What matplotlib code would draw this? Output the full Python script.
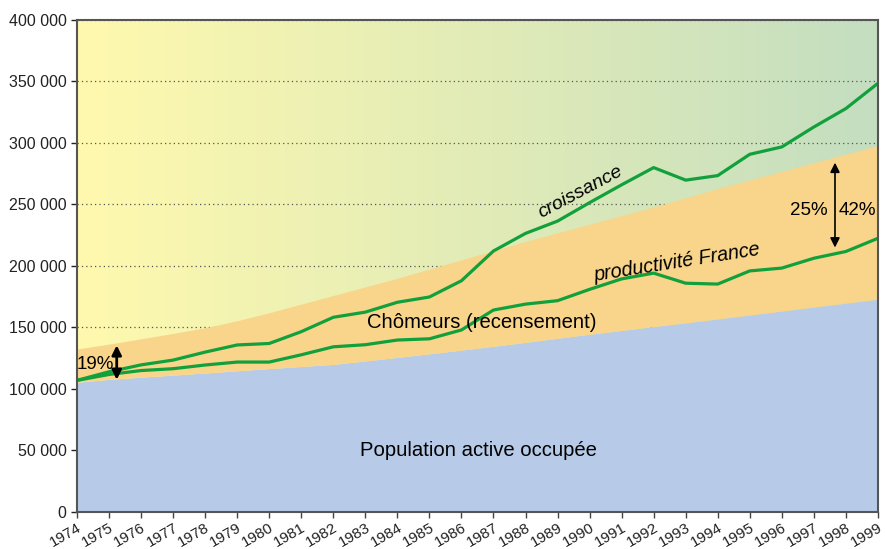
import numpy as np
import matplotlib.pyplot as plt
from matplotlib.colors import to_rgb
from matplotlib.ticker import FuncFormatter

plt.rcParams['font.family'] = ['Liberation Sans', 'DejaVu Sans']

years = list(range(1974, 2000))

# population active occupée (haut de la zone bleue)
pop_occupee = [105500, 107800, 109600, 111300, 113000, 114800, 116600, 118300, 120000,
               122800, 125700, 128600, 131600, 134700, 137900, 141200, 144500, 147600,
               150700, 153800, 157000, 160200, 163400, 166600, 169800, 173000]
# population active totale (occupée + chômeurs, haut de la zone orange)
pop_active = [132500, 136500, 140800, 145200, 149800, 155500, 162000, 169000, 176000,
              183000, 190000, 197500, 205000, 212500, 220000, 227000, 234000, 241000,
              248000, 255500, 263000, 270000, 277000, 284000, 291000, 298000]
croissance = [107000, 114000, 119600, 123500, 130000, 135800, 137000, 146600, 158300,
              162500, 170500, 174800, 188000, 212200, 226500, 236500, 251500, 266000,
              280000, 269800, 273500, 290800, 296800, 313000, 328000, 348500]
productivite = [107000, 111800, 115000, 116500, 119500, 121900, 121900, 127800, 134300,
                136000, 139800, 140800, 148000, 164200, 169000, 171800, 181000, 189500,
                194200, 186000, 185300, 196000, 198300, 206300, 211800, 222500]

yticks = [0, 50000, 100000, 150000, 200000, 250000, 300000, 350000, 400000]

fig = plt.figure(figsize=(8.85, 5.49), dpi=100)
ax = fig.add_axes([0.087, 0.0674, 0.905, 0.8962])

# fond dégradé jaune -> vert
c1 = np.array(to_rgb('#FFF9AE'))
c2 = np.array(to_rgb('#C4DEC0'))
t = np.linspace(0, 1, 256)
grad = (c1[None, :] * (1 - t[:, None]) + c2[None, :] * t[:, None])[None, :, :]
ax.imshow(grad, extent=[1974, 1999, 0, 400000], aspect='auto', zorder=0,
          interpolation='bilinear')

ax.fill_between(years, 0, pop_occupee, color='#B7CBE8', lw=0, zorder=1)
ax.fill_between(years, pop_occupee, pop_active, color='#F8D58A', lw=0, zorder=1)

ax.plot(years, croissance, color='#12A03C', lw=2.3, zorder=3)
ax.plot(years, productivite, color='#12A03C', lw=2.3, zorder=3)

ax.set_xlim(1974, 1999)
ax.set_ylim(0, 400000)
ax.set_xticks(years)
ax.set_xticklabels([str(y) for y in years], rotation=30, ha='right', va='top',
                   rotation_mode='anchor', fontsize=11, color='#222222')
ax.set_yticks(yticks)
ax.yaxis.set_major_formatter(FuncFormatter(lambda v, p: f'{int(v):,}'.replace(',', ' ')))
ax.tick_params(axis='y', labelsize=11.5, colors='#222222', length=4, width=1)
ax.tick_params(axis='x', length=4, width=1, colors='#444444', pad=2)
for lab in ax.get_yticklabels():
    lab.set_color('#222222')
for lab in ax.get_xticklabels():
    lab.set_color('#222222')

ax.set_axisbelow(True)
ax.yaxis.grid(True, ls=(0, (1, 2.5)), color='#555555', lw=0.9)
for s in ax.spines.values():
    s.set_color('#555555')
    s.set_linewidth(1.5)
    s.set_zorder(5)

# textes
ax.text(1989.7, 260400, 'croissance', rotation=28, style='italic', fontsize=14,
        ha='center', va='center', zorder=4)
ax.text(1992.73, 203000, 'productivité France', rotation=9, style='italic', fontsize=14.2,
        ha='center', va='center', zorder=4)
ax.text(1986.64, 153700, 'Chômeurs (recensement)', fontsize=14.6,
        ha='center', va='center', zorder=4)
ax.text(1986.52, 49600, 'Population active occupée', fontsize=14.6,
        ha='center', va='center', zorder=4)

# flèches de pourcentage
ax.annotate('', xy=(1975.24, 135500), xytext=(1975.24, 107500),
            arrowprops=dict(arrowstyle='<|-|>', color='black', lw=2, mutation_scale=14,
                            shrinkA=0, shrinkB=0), zorder=4)
ax.text(1974.58, 120000, '19%', fontsize=13.5, ha='center', va='center', zorder=4)

ax.annotate('', xy=(1997.66, 284000), xytext=(1997.66, 215000),
            arrowprops=dict(arrowstyle='<|-|>', color='black', lw=1.2, mutation_scale=14,
                            shrinkA=0, shrinkB=0), zorder=4)
ax.text(1996.83, 245500, '25%', fontsize=13.5, ha='center', va='center', zorder=4)
ax.text(1998.37, 245500, '42%', fontsize=13.5, ha='center', va='center', zorder=4)

plt.savefig('out.png', dpi=100)
